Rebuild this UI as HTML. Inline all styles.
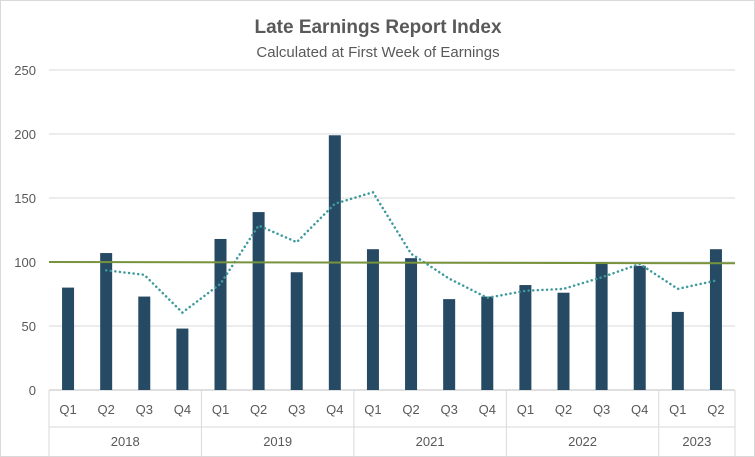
<!DOCTYPE html>
<html><head><meta charset="utf-8"><style>
html,body{margin:0;padding:0;background:#fff;}
svg{display:block;font-family:"Liberation Sans",Calibri,sans-serif;}
</style></head><body>
<svg id="chart" width="755" height="457" viewBox="0 0 755 457">
<rect x="0.5" y="0.5" width="754" height="456" fill="#fff" stroke="#d9d9d9"/>
<text x="378" y="33" text-anchor="middle" font-size="19" font-weight="bold" fill="#595959">Late Earnings Report Index</text>
<text x="378" y="57" text-anchor="middle" font-size="15" fill="#595959">Calculated at First Week of Earnings</text>
<g id="grid"></g><g id="bars"></g><g id="lines"></g><g id="axis"></g>
</svg>
<script>
const quarters=["Q1","Q2","Q3","Q4","Q1","Q2","Q3","Q4","Q1","Q2","Q3","Q4","Q1","Q2","Q3","Q4","Q1","Q2"];
const years=["2018","2019","2021","2022","2023"];
const yearSpans=[4,4,4,4,2];
const indexValues=[80,107,73,48,118,139,92,199,110,103,71,73,82,76,100,97,61,110];
const movingAvg=[null,93.5,90,60.5,83,128.5,115.5,145.5,154.5,106.5,87,72,77.5,79,88,98.5,79,85.5];
const baseline=[100,99];
const yTicks=[0,50,100,150,200,250];
const NS="http://www.w3.org/2000/svg";
const L=49,R=735,T=70,B=390,yMax=250;
const bw=(R-L)/quarters.length;
const x=i=>L+bw*(i+0.5);
const y=v=>B-(v/yMax)*(B-T);
function mk(tag,attrs,parent,txt){const e=document.createElementNS(NS,tag);for(const k in attrs)e.setAttribute(k,attrs[k]);if(txt!=null)e.textContent=txt;document.getElementById(parent).appendChild(e);return e;}
yTicks.forEach(t=>{
 const g=mk("line",{x1:L,x2:R,y1:y(t),y2:y(t),stroke:t===0?"#bfbfbf":"#d9d9d9","stroke-width":1},"grid");
 
 
 const lb=mk("text",{x:36,y:y(t)+5,"text-anchor":"end","font-size":13,fill:"#595959"},"axis",t);
 
 
});
indexValues.forEach((v,i)=>{
 const r=mk("rect",{x:x(i)-6,y:y(v),width:12,height:B-y(v),fill:"#264a63"},"bars");
 
 
 const q=mk("text",{x:x(i),y:414,"text-anchor":"middle","font-size":13,fill:"#595959"},"axis",quarters[i]);
 
 
});
let pts=movingAvg.map((v,i)=>v==null?null:x(i)+","+y(v)).filter(p=>p).join(" ");
const ma=mk("polyline",{points:pts,fill:"none",stroke:"#3e9a9c","stroke-width":2.5,"stroke-dasharray":"0.1 4.5","stroke-linecap":"round"},"lines");


const bl=mk("line",{x1:L,x2:R,y1:y(baseline[0]),y2:y(baseline[1]),stroke:"#77933c","stroke-width":2},"lines");


let idx=0;
const sep=i=>{const s=mk("line",{x1:L+bw*i,x2:L+bw*i,y1:B,y2:456,stroke:"#d9d9d9"},"axis");};
sep(0);
years.forEach((yr,k)=>{
 const cx=L+bw*(idx+yearSpans[k]/2);
 const t=mk("text",{x:cx,y:446,"text-anchor":"middle","font-size":13,fill:"#595959"},"axis",yr);
 
 
 idx+=yearSpans[k];sep(idx);
});
const hl=mk("line",{x1:L,x2:R,y1:427,y2:427,stroke:"#d9d9d9"},"axis");


</script>
</body></html>
